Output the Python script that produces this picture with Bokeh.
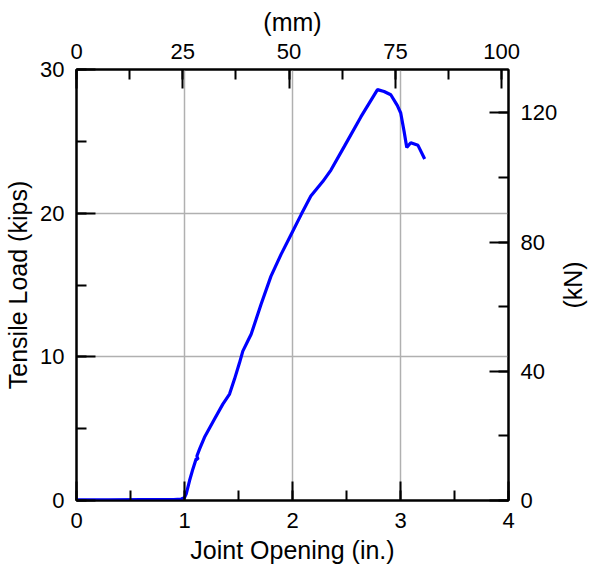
import math
from bokeh.plotting import figure
from bokeh.layouts import row
from bokeh.models import LinearAxis, Range1d, SingleIntervalTicker, FixedTicker
from bokeh.core.properties import value
from bokeh.embed import file_html
from bokeh.resources import INLINE

# Joint opening (in.) and tensile load (kips)
opening_in = [0.0, 0.3, 0.6, 0.9, 0.97, 1.0, 1.016, 1.047, 1.078, 1.108, 1.125, 1.115,
              1.14, 1.185, 1.278, 1.355, 1.417, 1.463, 1.51, 1.54, 1.586, 1.617, 1.709,
              1.80, 1.894, 1.986, 2.08, 2.17, 2.28, 2.356, 2.48, 2.633, 2.787, 2.848,
              2.91, 2.97, 3.002, 3.033, 3.058, 3.095, 3.162, 3.224]
load_kips = [0.05, 0.05, 0.06, 0.07, 0.1, 0.2, 0.46, 1.39, 2.2, 2.9, 2.85, 3.1,
             3.59, 4.4, 5.67, 6.71, 7.41, 8.45, 9.6, 10.4, 11.1, 11.57, 13.66,
             15.6, 17.13, 18.5, 19.9, 21.2, 22.2, 23.0, 24.65, 26.7, 28.6, 28.47,
             28.24, 27.5, 26.97, 25.7, 24.58, 24.9, 24.72, 23.77]

KIP_TO_KN = 4.448222
IN_TO_MM = 25.4
x_max_in = 4.0
y_max_kips = 30.0

FONT = "Liberation Sans"
TICK_SIZE = "22px"
LABEL_SIZE = "25px"

MAIN_W = 560
SIDE_W = 597 - MAIN_W

p = figure(width=MAIN_W, height=569, output_backend="svg", toolbar_location=None,
           x_range=Range1d(0, x_max_in), y_range=Range1d(0, y_max_kips),
           min_border_left=76, min_border_right=MAIN_W - 508, min_border_top=69,
           min_border_bottom=69,
           x_axis_label="Joint Opening (in.)", y_axis_label="Tensile Load (kips)")
p.extra_x_ranges = {"mm": Range1d(0, x_max_in * IN_TO_MM)}
p.extra_y_ranges = {"kn": Range1d(0, y_max_kips * KIP_TO_KN)}

p.line(opening_in, load_kips, line_color="#0000ff", line_width=3.2)

bottom = p.below[0]
left = p.left[0]
bottom.ticker = SingleIntervalTicker(interval=1, num_minor_ticks=2)
left.ticker = SingleIntervalTicker(interval=10, num_minor_ticks=2)

top = LinearAxis(x_range_name="mm", axis_label="(mm)",
                 ticker=SingleIntervalTicker(interval=25, num_minor_ticks=2))
right = LinearAxis(y_range_name="kn",
                   ticker=SingleIntervalTicker(interval=40, num_minor_ticks=2))
p.add_layout(top, "above")
p.add_layout(right, "right")

for ax in (bottom, left, top, right):
    ax.major_tick_in = 19
    ax.major_tick_out = 0
    ax.minor_tick_in = 10
    ax.minor_tick_out = 0
    ax.major_tick_line_color = "black"
    ax.minor_tick_line_color = "black"
    ax.major_tick_line_width = 2
    ax.minor_tick_line_width = 2
    ax.axis_line_color = "black"
    ax.axis_line_width = 2
    ax.major_label_text_font = FONT
    ax.major_label_text_font_size = TICK_SIZE
    ax.major_label_text_color = "black"
    ax.axis_label_text_font = FONT
    ax.axis_label_text_font_size = LABEL_SIZE
    ax.axis_label_text_font_style = "normal"
    ax.axis_label_text_color = "black"
    ax.major_label_standoff = 12
    ax.axis_label_standoff = 5

top.major_label_standoff = 11

p.xgrid.ticker = FixedTicker(ticks=[1, 2, 3])
p.ygrid.ticker = FixedTicker(ticks=[10, 20])
p.xgrid.grid_line_color = "#b0b0b0"
p.ygrid.grid_line_color = "#b0b0b0"
p.xgrid.grid_line_width = 1.5
p.ygrid.grid_line_width = 1.5

p.outline_line_color = "black"
p.outline_line_width = 2
p.background_fill_color = "white"
p.border_fill_color = "white"

# narrow side panel carrying the right-hand axis title, read bottom-to-top
side = figure(width=SIDE_W, height=569, output_backend="svg", toolbar_location=None,
              x_range=Range1d(0, 1), y_range=Range1d(0, 1),
              x_axis_type=None, y_axis_type=None,
              min_border_left=0, min_border_right=0, min_border_top=69, min_border_bottom=69)
side.grid.visible = False
side.outline_line_color = None
side.background_fill_color = "white"
side.border_fill_color = "white"
side.text(x=[0.35], y=[0.5], text=["(kN)"], angle=math.pi / 2,
          text_font=value(FONT), text_font_size=value(LABEL_SIZE),
          text_align="center", text_baseline="middle", text_color="black")

open("out.html", "w").write(file_html(row(p, side), INLINE))
